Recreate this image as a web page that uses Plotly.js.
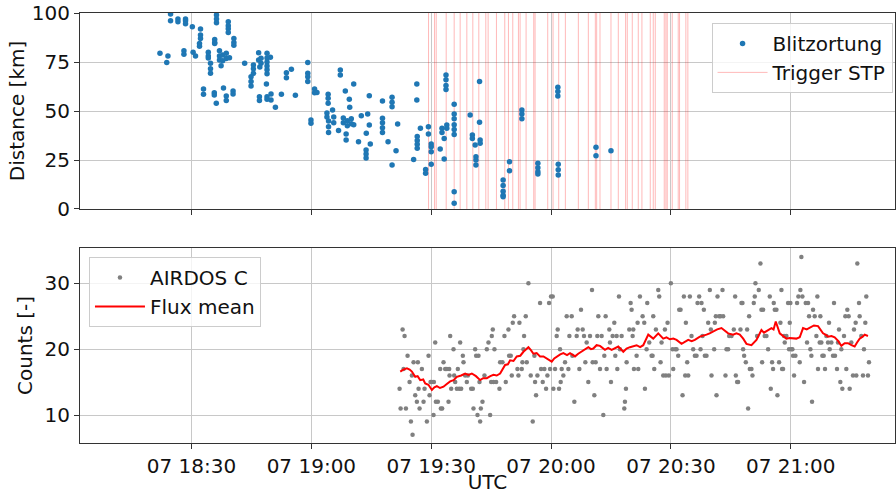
<!DOCTYPE html>
<html>
<head>
<meta charset="utf-8">
<script src="https://cdn.plot.ly/plotly-3.0.1.min.js"></script>
<style>html,body{margin:0;padding:0;background:#fff;}#chart{width:896px;height:494px;}</style>
</head>
<body>
<div id="chart"></div>
<script>
// Times are minutes after 07 18:00 UTC
const DAY = "2022-06-07";

// Blitzortung lightning detections: time (min after 18:00) and distance (km)
const blitzMin = [
 24.75,24.75, 26.6,26.6, 28.5,28.5,28.5, 30.2, 32.25,32.25,32.25, 32.0,32.0,
 36.25,36.25,36.25, 35.8,35.8,35.8, 39.2,39.2,39.2,39.2, 40.6,40.6,40.6,
 22.1, 24.1, 23.8, 28.1,28.1, 30.4, 31.0, 34.2,34.2,34.2, 34.75,34.75,34.75,
 37.0,37.0,37.0, 37.8,37.8, 38.7,38.7, 37.4, 39.5,
 33.0,33.0, 35.7,35.7, 36.2, 38.0, 38.7,38.7, 40.4,40.4,
 43.3, 45.5,45.5,45.5, 44.9,44.9,44.9, 46.8,46.8, 47.1, 47.4,47.4,
 48.9,48.9,48.9,48.9,48.9,48.9, 49.75, 48.75, 47.0,47.0, 48.9,48.9, 49.9,49.9,
 51.0, 52.5, 53.75,53.75, 55.0, 56.0,
 59.1,59.1,59.1,59.1, 59.9,59.9, 60.8,60.8, 61.4, 64.2,64.2,64.2, 63.9,63.9,
 64.3,64.3,64.3, 65.3, 65.6,65.6, 66.8, 67.25,67.25, 68.5, 68.0,68.0, 69.0,69.0,
 70.0,70.0, 69.5, 69.6, 68.7,68.7, 70.6,70.6, 71.8, 72.5, 73.75, 73.7,73.7,73.7,
 74.1, 74.5,74.5, 74.75, 77.8,77.8,77.8,77.8,77.8, 79.2, 80.2,80.2,80.2,80.2,
 81.2, 81.6, 85.6, 86.4,86.4, 86.5,86.5,86.5,86.5, 87.3, 88.6,88.6, 89.3,89.3,
 90.0,90.0,90.0,90.0, 92.25, 92.7,92.7, 93.25,93.25, 93.7,93.7,93.7,93.7, 93.9,93.9,
 95.75,95.75,95.75,95.75,95.75,95.75,95.75,95.75,
 99.75, 100.3,100.3, 101.0, 101.2,101.2,101.2, 102.1,102.1, 102.25,102.25,
 108.0,108.0,108.0,108.0,108.0, 109.6,109.6, 112.7,112.7,112.7,
 116.7,116.7,116.7,116.7, 121.7,121.7,121.7, 121.8,121.8,121.8,
 131.25,131.25, 135.0
];
const blitzKm = [
 99.5,96, 97,95.5, 97,96,94.5, 93, 91.8,88.8,87, 84.5,83,
 99,97,95, 86.5,85,84.5, 95.5,93.5,92,90, 87,85,83.5,
 79.4, 78, 74.8, 80.8,79, 80, 78, 80,78,77, 74.3,71.5,69.2,
 80.8,78,76, 78.6,75.7, 79.5,76.8, 73.1, 77.2,
 61.2,58.5, 59.3,58.2, 54, 61.7, 57.7,55.3, 60.2,58.7,
 74.3, 73.5,71.5,69.2, 67.5,65,62.8, 79.7,76, 72.4, 76.9,74.3,
 79.4,77,75,73,71,69, 77.4, 63.8, 57.3,55.3, 57.3,56, 58.7,55.6,
 51.9, 58.5, 69.5,67, 71.3, 58,
 74.8,69.2,67.5,65, 45.4,43.7, 61.2,59.3, 59.5, 58.5,56.5,54, 49,47,
 44.9,42,39, 50.5, 47,44, 40, 70.9,68.4, 60.2, 46.4,44, 45,42.5,
 46,43.5, 56, 51.9, 38.3,35.2, 63.8,43, 34.3, 47.6, 38.6, 30.1,28,26,
 48.5, 57.8,42.8, 33.2, 55.1,46.3,44,41.5,39, 34.3, 57,54.5,52.2,22.4,
 29.7, 43.4, 25.3, 63.8,55.6, 37,35,33,31, 41.2, 20.2,18.2, 42,38.3,
 33.2,31.8,29.2,22.8, 30.6, 41.2,39, 36,25.5, 68.4,66,63,61, 42.9,41.2,
 53.4,48.5,46,43,40.5,38,8.8,2.9,
 48, 37.8,36, 32.6, 26.7,25,22.4, 65,44.2, 35.2,33.5,
 14.8,12,9,7,6.3, 24.1,19.5, 50.5,48.5,46,
 23.3,21,19,17.9, 62.1,60,57.7, 22.8,20,17.4,
 31.5,27.2, 29.7
];

// STP trigger times (min after 18:00)
const triggerMin = [89.33,90.83,91.25,93.75,95.75,97.25,98.92,100.42,101.92,103.67,104.25,
 106.33,108.42,109.33,110.42,111.83,112.25,113.75,115.67,116.0,119.17,120.5,121.92,123.58,
 126.83,129.33,131.08,131.42,132.25,135.0,136.83,138.67,139.08,140.33,141.83,142.75,
 144.83,145.58,146.08,148.33,148.75,149.08,150.33,151.83,152.17,153.75,154.25];

// AIRDOS C counts (min after 18:00, counts)
const airdosMin = [
 82.08,82.33,82.83,83.33,83.08,83.67,84.08,84.58,84.92,85.33,85.17,85.58,86.0,86.42,86.67,86.83,
 87.08,87.67,88.08,88.33,88.92,89.33,89.58,89.83,90.17,90.58,90.67,91.0,91.17,91.67,92.25,92.42,
 92.75,93.08,93.5,93.92,94.33,94.5,94.75,94.58,95.0,95.58,95.75,96.0,96.42,96.67,97.0,97.25,
 97.5,97.92,98.08,98.5,98.92,99.17,100.0,100.42,100.58,101.0,101.25,101.58,101.83,102.25,102.08,
 102.42,102.83,103.33,103.92,104.33,104.75,105.17,105.42,105.83,105.0,105.58,106.25,107.08,107.25,
 107.83,108.33,108.67,109.33,109.5,109.92,110.42,110.75,110.17,111.58,
 111.83,112.08,112.67,112.83,113.25,113.08,113.67,113.92,114.33,114.92,115.42,115.83,116.0,116.25,
 116.58,117.25,117.5,117.92,118.33,118.75,119.08,119.5,119.75,120.0,120.42,120.58,121.0,121.42,
 121.67,122.0,122.25,122.42,122.67,123.08,123.5,123.92,124.33,124.58,125.17,125.33,125.83,126.42,
 126.67,127.08,127.5,127.92,128.25,128.58,128.92,129.33,129.75,130.25,130.42,130.83,131.17,131.58,
 131.83,132.25,132.67,133.08,133.33,133.67,133.92,134.58,134.75,135.0,135.42,135.83,136.08,136.42,
 136.58,137.0,137.25,137.67,138.33,138.5,138.75,138.92,139.58,139.92,140.17,140.58,140.75,
 140.42,141.42,141.83,141.67,142.25,142.92,143.33,143.5,144.08,143.92,144.58,145.17,145.42,145.58,
 145.83,146.25,146.83,147.08,147.42,147.67,148.08,148.5,148.75,149.17,149.5,150.0,150.42,150.58,
 151.08,151.42,151.83,152.08,152.42,152.92,153.25,153.75,154.08,153.58,154.33,154.75,155.17,155.58,
 156.0,156.42,156.67,157.08,157.42,157.67,157.92,158.25,158.5,158.92,159.33,159.75,160.0,160.17,
 160.83,161.0,161.25,161.42,161.67,162.08,162.42,162.92,163.08,163.67,163.92,164.33,164.58,165.17,
 165.75,166.08,166.25,166.58,166.83,167.42,167.67,167.92,168.08,168.33,168.75,169.08,169.33,169.58,
 169.75,170.17,170.42,170.75,
 171.0,171.17,171.58,172.0,172.42,172.67,173.08,172.83,173.5,173.92,174.33,174.75,175.0,175.33,
 175.58,175.75,176.0,176.42,176.67,177.08,177.42,177.67,177.83,178.08,178.33,178.5,178.92,179.33,
 179.58,179.75,179.92,180.17,180.42,180.58,180.83,181.17,181.58,181.92,182.25,182.42,182.67,182.92,
 183.33,183.75,184.08,184.33,184.58,184.92,185.17,185.33,185.58,186.0,186.42,186.67,186.83,187.25,
 187.42,187.67,187.92,188.25,188.58,188.92,189.33,189.58,189.75,190.17,190.58,190.83,191.08,191.58,
 191.83,192.08,192.42,192.67,192.92,193.33,193.67,193.92,194.17,194.5,194.75,195.17,195.58,195.83,
 196.25,196.42,196.67,197.08,197.25,197.67,198.08,198.33,198.67,198.92,199.33,199.58
];
const airdosCounts = [
 14,11,23,22,17,11,19,15,9,7,16,18,13,12,18,14,
 11,17,12,14,9,19,13,15,15,10,15,21,12,12,17,11,
 11,18,17,17,12,17,22,16,14,20,16,15,14,17,14,21,
 14,19,18,16,15,16,14,14,11,20,19,10,19,9,15,
 11,12,16,20,21,10,22,23,20,15,15,15,14,18,
 18,22,15,23,19,19,24,25,16,17,
 16,24,17,18,22,20,25,18,30,16,9,19,15,13,
 16,27,17,15,17,14,16,27,17,28,28,14,17,22,
 23,14,20,15,17,16,18,25,17,22,25,19,12,22,
 23,17,26,23,22,18,21,15,22,29,18,13,18,22,
 25,17,22,10,19,25,17,23,21,15,22,24,19,22,
 17,28,20,22,11,12,14,18,23,27,26,23,17,
 22,19,17,24,28,25,24,14,27,20,21,19,19,25,
 17,23,29,28,18,21,16,23,16,24,16,30,20,17,
 20,20,19,26,26,13,28,24,18,16,16,28,22,20,
 19,19,27,28,20,27,22,26,19,19,24,29,23,16,
 20,24,25,13,28,25,25,29,25,16,20,20,22,22,
 23,28,16,15,15,23,27,27,20,19,18,23,11,25,
 17,17,16,27,
 28,30,22,29,33,26,26,18,22,22,20,28,14,18,
 17,27,26,26,13,18,24,29,17,17,22,21,22,27,
 20,24,27,20,20,19,16,19,27,28,18,29,34,28,
 15,27,21,27,25,20,19,12,26,25,22,28,17,21,
 25,21,19,19,17,22,21,24,20,21,19,27,19,17,
 21,23,15,20,14,22,25,17,26,25,14,21,16,23,
 24,16,33,27,25,22,16,20,24,28,16,18
];

// Flux mean (running mean of AIRDOS C)
const fluxMin = [82.25,83.0,83.92,84.6,85.17,86.0,86.6,87.25,88.0,88.5,89.3,90.17,90.8,91.42,92.2,
 93.08,93.9,94.75,95.6,96.42,97.5,98.5,99.3,100.17,101.2,102.25,103.0,103.92,104.8,105.58,106.4,
 107.25,108.5,109.2,109.75,110.6,111.42,112.3,113.08,114.33,115.0,115.58,116.4,117.25,118.1,
 118.92,120.17,120.8,121.42,122.3,123.08,124.0,124.75,126.0,126.8,127.67,128.5,129.33,130.0,
 130.58,131.4,132.25,133.5,134.3,135.17,136.0,136.83,138.08,138.9,139.75,140.6,141.42,142.3,
 143.08,144.33,145.0,145.58,146.83,147.5,148.08,148.9,149.75,150.6,151.42,152.67,153.5,154.33,
 155.2,156.0,157.25,158.1,158.92,159.7,160.58,161.6,162.67,163.5,164.33,165.58,166.4,167.25,
 168.1,168.92,170.17,171.42,172.0,172.67,173.3,173.92,174.5,175.17,175.7,176.25,177.25,178.1,
 178.92,179.7,180.58,181.4,182.25,183.08,184.0,184.75,185.8,186.83,187.5,188.08,188.7,189.33,
 190.2,191.0,191.8,192.67,193.5,194.33,195.2,196.0,196.6,197.25,198.0,198.5,199.33];
const fluxMean = [16.6,16.9,17.1,16.9,16.6,15.8,15.9,15.3,15.4,14.8,14.6,13.8,14.2,14.4,14.1,
 14.3,14.7,15.1,15.3,15.8,16.0,16.3,16.1,16.3,15.9,15.3,15.6,15.6,15.9,16.1,16.0,
 16.3,17.6,17.7,18.3,18.2,18.9,19.0,19.6,20.3,19.8,19.3,19.4,18.9,18.9,
 18.6,18.1,18.6,18.9,19.2,19.4,19.1,19.4,18.9,19.3,19.6,20.0,20.3,20.0,
 20.1,20.6,20.5,19.9,20.2,19.9,20.1,20.4,19.6,20.1,20.3,20.4,20.6,20.3,
 20.6,22.2,21.8,21.6,22.4,22.0,21.6,21.8,21.5,21.6,21.4,20.8,21.1,21.4,
 21.2,21.4,21.9,22.0,22.2,22.4,22.7,23.0,23.2,22.8,22.4,22.2,22.4,22.2,
 21.6,20.8,20.6,21.4,22.0,22.9,22.5,22.7,22.9,23.2,23.0,24.2,22.4,22.0,
 21.6,21.7,21.7,21.6,21.8,23.2,23.0,23.3,23.6,23.5,23.0,22.4,22.2,21.9,
 22.0,21.8,21.3,20.5,20.9,20.9,20.6,20.4,21.0,21.6,21.9,22.2,22.0];

function pad(n){ return (n < 10 ? "0" : "") + n; }
function toTime(m){
  const s = Math.round(m * 60);
  const h = 18 + Math.floor(s / 3600);
  const mi = Math.floor((s % 3600) / 60);
  const se = s % 60;
  return DAY + " " + pad(h) + ":" + pad(mi) + ":" + pad(se);
}

const trigX = [], trigY = [];
triggerMin.forEach(m => { const t = toTime(m); trigX.push(t, t, null); trigY.push(0, 100, null); });

const FONT = "DejaVu Sans, sans-serif";
const TXT = "#111111";
const FS = 20;

const traces = [
  { type: "scatter", mode: "lines", name: "Trigger STP", x: trigX, y: trigY,
    xaxis: "x", yaxis: "y", line: { color: "rgba(255,0,0,0.28)", width: 1 },
    legend: "legend", hoverinfo: "skip" },
  { type: "scatter", mode: "markers", name: "Blitzortung", x: blitzMin.map(toTime), y: blitzKm,
    xaxis: "x", yaxis: "y", marker: { color: "#1f77b4", size: 5.5 }, legend: "legend" },
  { type: "scatter", mode: "markers", name: "AIRDOS C", x: airdosMin.map(toTime), y: airdosCounts,
    xaxis: "x2", yaxis: "y2", marker: { color: "#808080", size: 4.5 }, legend: "legend2" },
  { type: "scatter", mode: "lines", name: "Flux mean", x: fluxMin.map(toTime), y: fluxMean,
    xaxis: "x2", yaxis: "y2", line: { color: "#ff0000", width: 2 }, legend: "legend2" }
];

const xr = [toTime(2.08), toTime(206.1)];
const common = {
  showgrid: true, gridcolor: "#c8c8c8", gridwidth: 1,
  showline: true, linecolor: "#333", linewidth: 1, mirror: true,
  ticks: "outside", ticklen: 5, tickcolor: "#333", zeroline: false,
  tickfont: { family: FONT, size: FS, color: TXT }
};

const layout = {
  width: 896, height: 494,
  margin: { l: 80, r: 1, t: 13, b: 51, pad: 0 },
  paper_bgcolor: "#fff", plot_bgcolor: "#fff",
  font: { family: FONT, size: FS, color: TXT },
  xaxis: Object.assign({}, common, { domain: [0, 1], anchor: "y", type: "date", range: xr,
    tick0: DAY + " 18:00", dtick: 1800000, showticklabels: false, matches: "x2" }),
  yaxis: Object.assign({}, common, { domain: [0.5442, 1], anchor: "x", range: [0, 100],
    tickvals: [0, 25, 50, 75, 100],
    title: { text: "Distance [km]", font: { family: FONT, size: FS, color: TXT }, standoff: 1 } }),
  xaxis2: Object.assign({}, common, { domain: [0, 1], anchor: "y2", type: "date", range: xr,
    tick0: DAY + " 18:00", dtick: 1800000, tickformat: "%d %H:%M",
    title: { text: "UTC", font: { family: FONT, size: FS, color: TXT }, standoff: 0 } }),
  yaxis2: Object.assign({}, common, { domain: [0, 0.4535], anchor: "x2", range: [5.75, 35.36],
    tickvals: [10, 20, 30],
    title: { text: "Counts [-]", font: { family: FONT, size: FS, color: TXT }, standoff: 6 } }),
  legend: { x: 0.997, y: 0.977, xanchor: "right", yanchor: "top", itemwidth: 50,
    bgcolor: "rgba(255,255,255,0.8)", bordercolor: "#cccccc", borderwidth: 1,
    font: { family: FONT, size: FS, color: TXT }, traceorder: "reversed" },
  legend2: { x: 0.011, y: 0.4326, xanchor: "left", yanchor: "top", itemwidth: 50,
    bgcolor: "rgba(255,255,255,0.8)", bordercolor: "#cccccc", borderwidth: 1,
    font: { family: FONT, size: FS, color: TXT } },
  showlegend: true
};

Plotly.newPlot("chart", traces, layout, { staticPlot: true, displayModeBar: false });
</script>
</body>
</html>
